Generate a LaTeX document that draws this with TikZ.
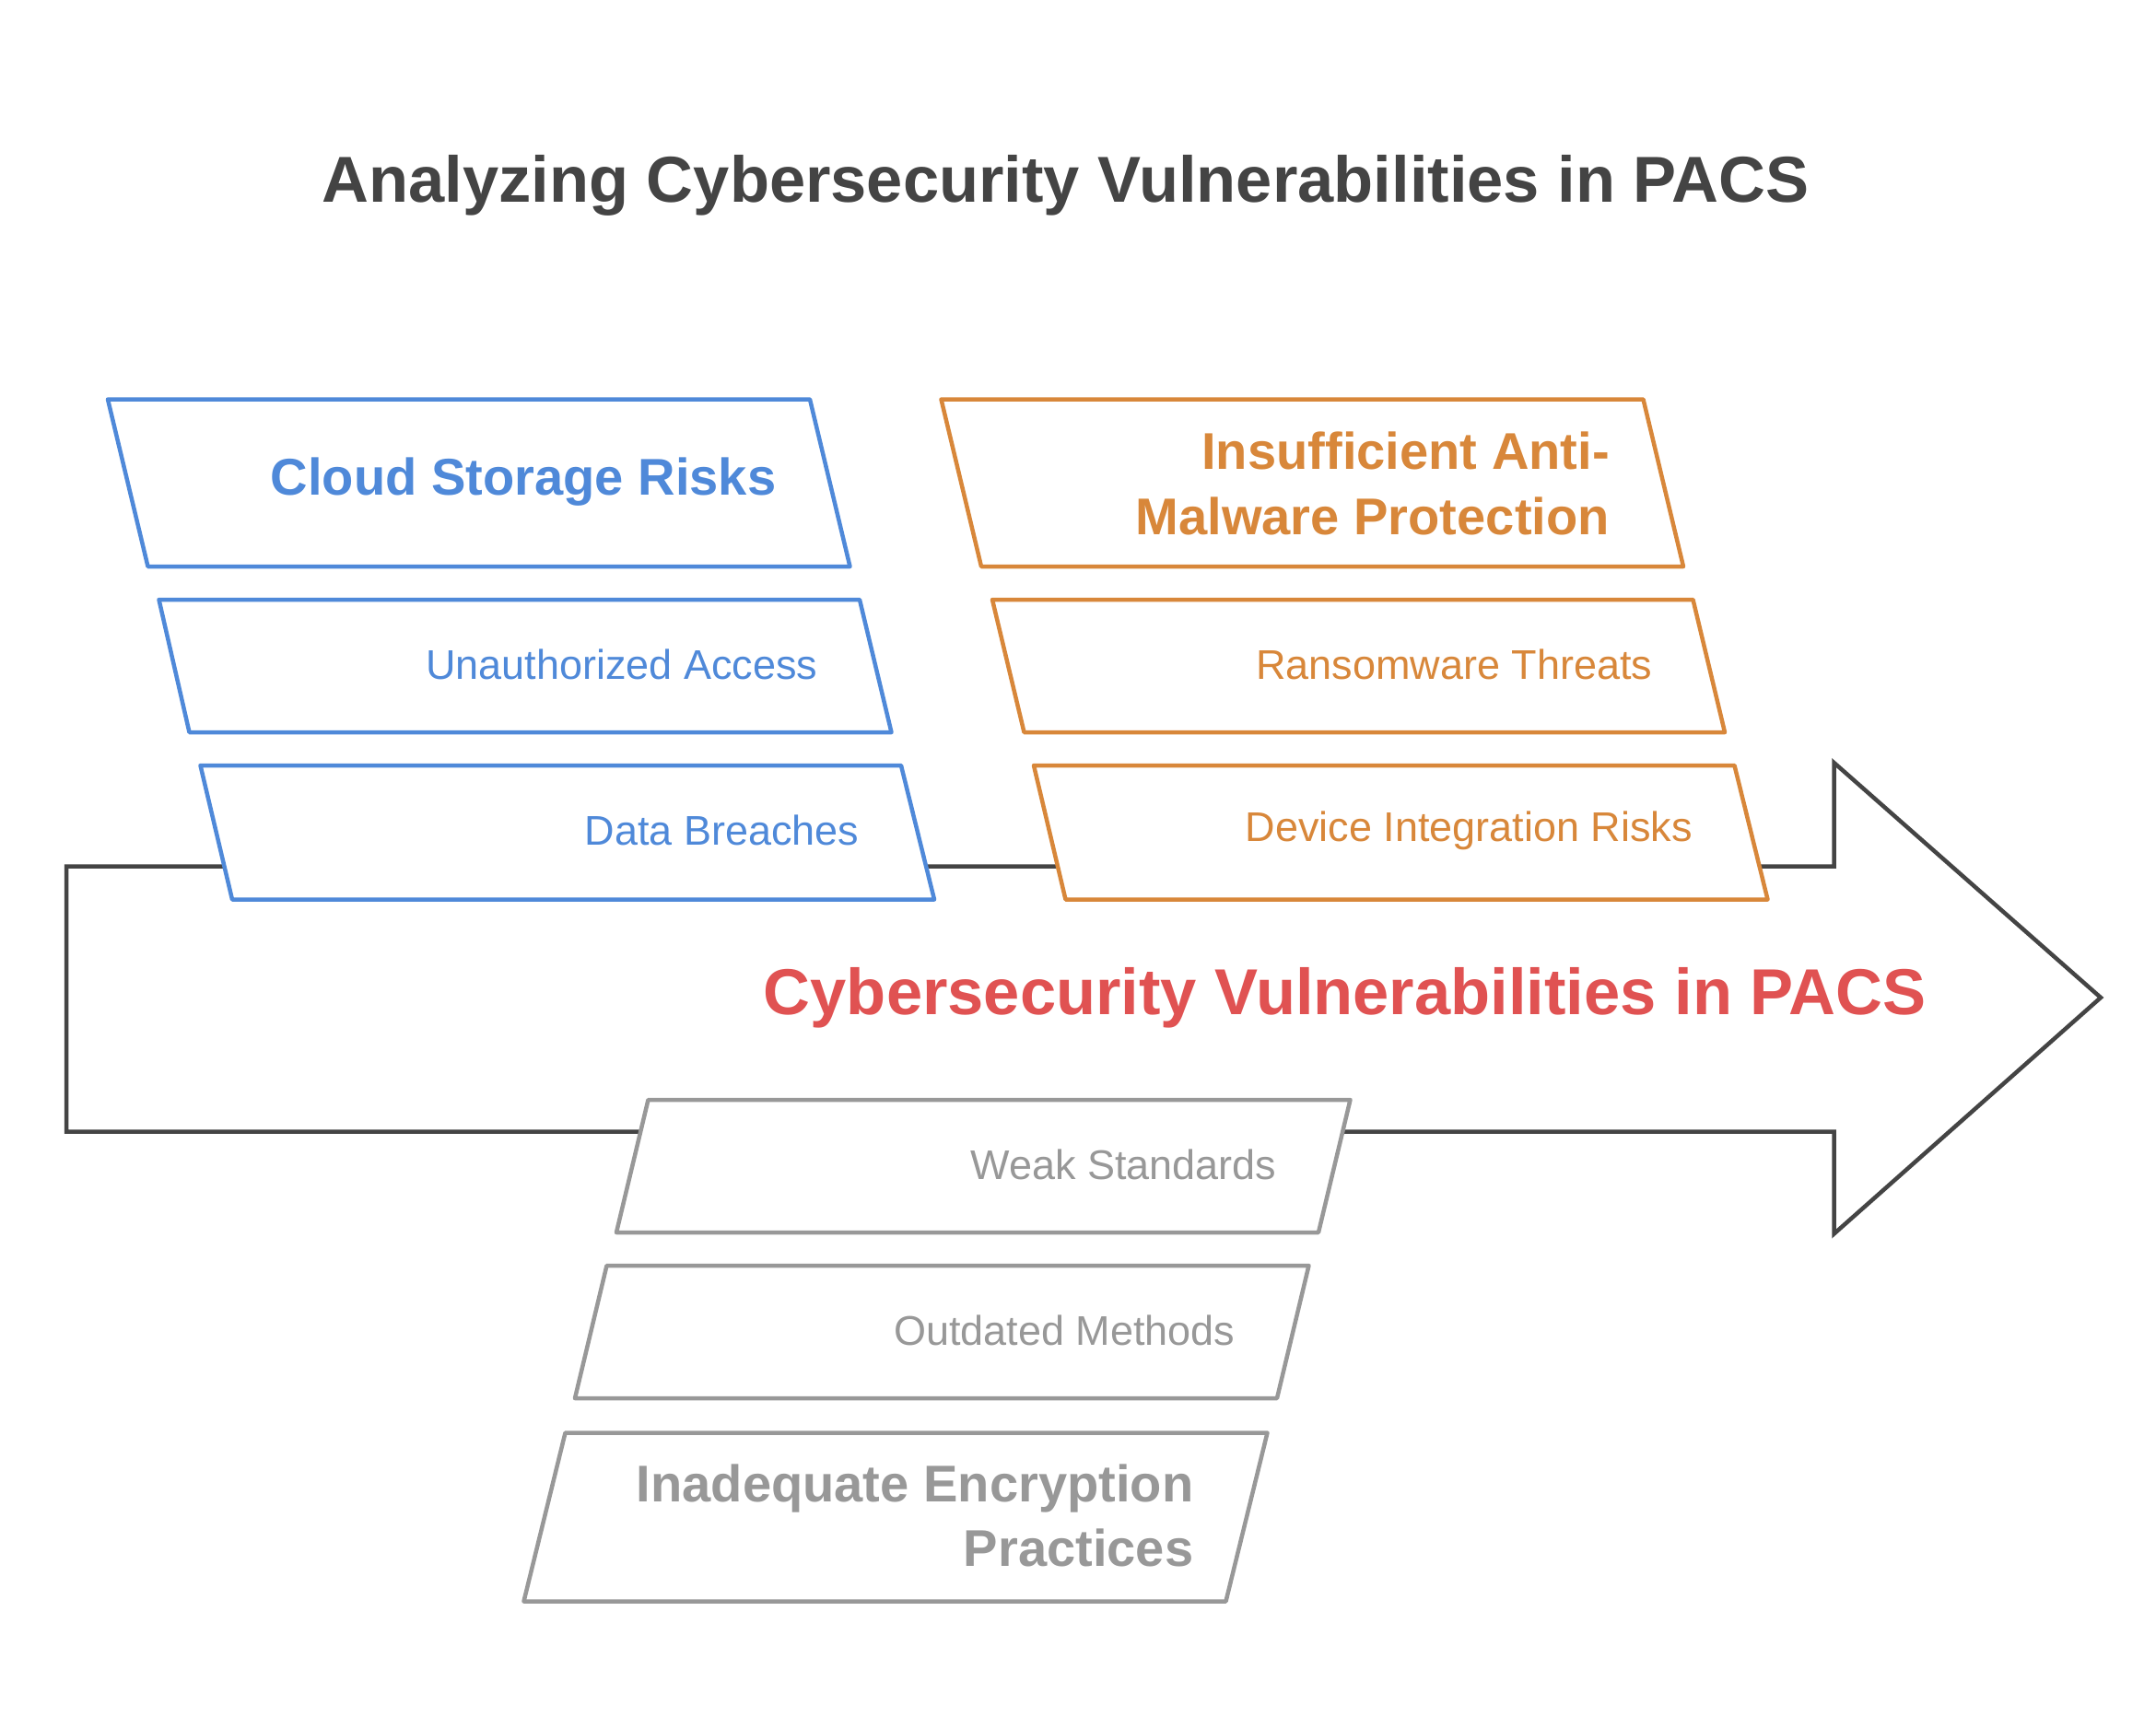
\documentclass[tikz,border=0pt]{standalone}
\usepackage{fontspec}
\setmainfont{Liberation Sans}
\definecolor{cblue}{HTML}{4F89D9}
\definecolor{corange}{HTML}{D8873A}
\definecolor{cgray}{HTML}{989898}
\definecolor{cred}{HTML}{E05252}
\definecolor{cdark}{HTML}{444444}
\tikzset{
  boxline/.style={line width=1.5pt, fill=white, line join=round},
  arrowline/.style={draw=cdark, line width=1.5pt, fill=white},
  small/.style={anchor=east, inner sep=0pt, font=\fontsize{15}{18}\selectfont},
  head/.style={anchor=east, inner sep=0pt, align=right, font=\bfseries\fontsize{18.7}{23.5}\selectfont},
}
\begin{document}
\begin{tikzpicture}[x=0.5pt,y=-0.5pt]
\useasboundingbox (0,0) rectangle (1560,1250);
% title
\node[inner sep=0pt, text=cdark, font=\bfseries\fontsize{23.5}{28}\selectfont] (title) at (771,134) {Analyzing Cybersecurity Vulnerabilities in PACS};
% big arrow
\draw[arrowline] (48,627) -- (1327,627) -- (1327,552) -- (1520,722) -- (1327,893) -- (1327,819) -- (48,819) -- cycle;
\node[anchor=east, inner sep=0pt, text=cred, font=\bfseries\fontsize{23.5}{28}\selectfont] (main) at (1394,722) {Cybersecurity Vulnerabilities in PACS};
% blue group
\draw[boxline, draw=cblue] (78,289) -- (586,289) -- (615,410) -- (107,410) -- cycle;
\node[head, text=cblue] (b1) at (562,349) {Cloud Storage Risks};
\draw[boxline, draw=cblue] (115,434) -- (622,434) -- (645,530) -- (137,530) -- cycle;
\node[small, text=cblue] (b2) at (592,481) {Unauthorized Access};
\draw[boxline, draw=cblue] (145,554) -- (652,554) -- (676,651) -- (168,651) -- cycle;
\node[small, text=cblue] (b3) at (622,601) {Data Breaches};
% orange group
\draw[boxline, draw=corange] (681,289) -- (1189,289) -- (1218,410) -- (710,410) -- cycle;
\node[head, text=corange] (o1) at (1165,350) {Insufficient Anti-\\Malware Protection};
\draw[boxline, draw=corange] (718,434) -- (1225,434) -- (1248,530) -- (741,530) -- cycle;
\node[small, text=corange] (o2) at (1196,481) {Ransomware Threats};
\draw[boxline, draw=corange] (748,554) -- (1255,554) -- (1279,651) -- (771,651) -- cycle;
\node[small, text=corange] (o3) at (1225,601) {Device Integration Risks};
% gray group
\draw[boxline, draw=cgray] (469,796) -- (977,796) -- (954,892) -- (446,892) -- cycle;
\node[small, text=cgray] (g1) at (924,843) {Weak Standards};
\draw[boxline, draw=cgray] (439,916) -- (947,916) -- (924,1012) -- (416,1012) -- cycle;
\node[small, text=cgray] (g2) at (894,963) {Outdated Methods};
\draw[boxline, draw=cgray] (409,1037) -- (917,1037) -- (887,1159) -- (379,1159) -- cycle;
\node[head, text=cgray] (g3) at (864,1097) {Inadequate Encryption\\Practices};
\end{tikzpicture}
\end{document}
